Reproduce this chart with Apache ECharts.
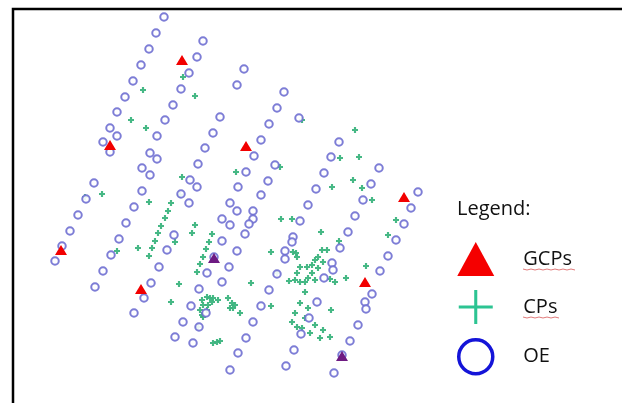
<!DOCTYPE html>
<html>
<head>
<meta charset="utf-8">
<script src="https://cdn.jsdelivr.net/npm/echarts@6/dist/echarts.min.js"></script>
<style>
  html, body { margin: 0; padding: 0; background: #fff; }
  #main { width: 622px; height: 403px; }
</style>
</head>
<body>
<div id="main"></div>
<script>
// point positions (image coordinates, y grows downward)
var gcpPoints = [
  [182, 60], [110, 145], [246, 146], [404, 197], [61, 250],
  [141, 289], [214, 258], [365, 282], [342, 356]
];

var cpPoints = [
  [143, 90], [131, 120], [146, 128], [183, 77], [195, 96], [182, 177], [102, 194], [85, 197],
  [236, 172], [280, 167], [302, 120], [355, 130], [340, 158], [359, 157], [353, 180], [332, 187],
  [362, 188], [372, 200],
  [149, 202], [171, 203], [168, 211], [165, 218], [161, 226], [158, 233], [155, 241], [152, 248],
  [149, 256], [138, 248], [117, 251], [175, 242], [180, 195], [192, 233], [195, 225], [212, 234],
  [209, 242], [206, 249], [203, 257], [200, 264], [197, 272], [179, 284], [171, 302],
  [202, 300], [207, 297], [210, 298], [213, 298], [218, 300], [203, 305], [208, 305], [212, 302],
  [202, 315], [207, 310], [200, 310], [203, 317], [198, 327],
  [228, 298], [232, 303], [235, 305], [230, 308], [233, 308], [240, 313],
  [213, 343], [217, 342], [220, 341],
  [251, 283], [271, 252], [281, 219], [292, 219], [289, 281], [297, 273], [296, 253], [277, 273],
  [271, 306], [292, 322], [295, 313], [321, 232], [339, 241], [396, 220], [388, 235], [366, 266],
  [346, 278], [331, 310],
  [293, 252], [297, 257], [300, 267], [307, 267], [312, 265], [315, 260], [318, 257], [322, 250],
  [327, 250], [323, 262], [318, 268], [312, 273], [308, 278], [305, 282], [300, 282], [295, 280],
  [315, 280], [330, 279], [335, 282], [305, 292], [300, 303], [308, 308], [305, 318], [315, 325],
  [323, 330], [330, 337], [320, 338], [297, 327], [310, 333], [302, 328]
];

var oePoints = [
  [164, 17], [156, 33], [149, 49], [141, 65], [133, 81], [125, 97], [117, 112], [110, 128],
  [117, 136], [103, 142], [110, 152],
  [203, 41], [197, 57], [189, 73], [181, 89], [173, 105], [165, 120], [157, 136], [150, 153],
  [157, 159], [142, 168], [150, 175], [94, 183], [142, 191], [86, 199], [134, 207], [78, 215],
  [126, 223], [70, 231], [119, 239], [62, 246], [111, 255], [55, 261], [103, 271], [95, 287],
  [244, 69], [237, 85], [220, 117], [213, 133], [205, 148], [198, 164], [190, 180], [197, 187],
  [181, 194], [189, 203], [174, 235], [167, 250], [159, 267], [151, 283], [144, 298], [134, 313],
  [175, 337],
  [284, 92], [277, 108], [269, 124], [261, 140], [254, 156], [246, 172], [238, 187], [230, 203],
  [237, 211], [222, 219], [230, 225], [222, 241], [237, 251], [229, 267], [222, 282], [207, 273],
  [199, 289], [191, 306], [206, 313], [183, 322], [199, 327], [193, 343], [214, 257],
  [299, 118], [275, 165], [268, 181], [261, 195], [253, 211], [253, 219], [249, 224], [245, 234],
  [339, 142], [331, 157], [324, 173], [316, 189], [308, 205], [300, 221], [293, 237], [292, 242],
  [285, 251], [285, 259], [277, 274], [269, 290], [261, 306], [253, 322], [246, 338], [238, 353],
  [230, 370],
  [379, 168], [371, 184], [363, 200], [355, 216], [348, 232], [340, 248], [332, 263], [333, 270],
  [324, 278], [317, 302], [309, 318], [301, 334], [294, 350], [286, 366],
  [418, 192], [411, 208], [404, 224], [396, 240], [388, 256], [380, 271], [372, 294], [365, 302],
  [366, 309], [358, 325], [350, 341], [334, 373], [342, 355]
];

var legendNames = ['GCPs', 'CPs', 'OE'];
var legendTitle = 'Legend:';

var thinPlus = 'path://M4.55,0h0.9v4.55h4.55v0.9h-4.55v4.55h-0.9v-4.55h-4.55v-0.9h4.55z';
var fatPlus = 'path://M3.2,0h3.6v3.2h3.2v3.6h-3.2v3.2h-3.6v-3.2h-3.2v-3.6h3.2z';

// triangles sitting right under an OE circle come out purple in the original
var gcpData = gcpPoints.map(function (p) {
  var hit = oePoints.some(function (q) {
    return Math.abs(q[0] - p[0]) <= 3 && Math.abs(q[1] - p[1]) <= 3;
  });
  return hit ? { value: p, itemStyle: { color: '#6e1a82' } } : { value: p };
});

var myChart = echarts.init(document.getElementById('main'));

var option = {
  animation: false,
  title: {
    text: legendTitle,
    left: 457,
    top: 199,
    padding: 0,
    textStyle: {
      fontFamily: 'Open Sans',
      fontSize: 20,
      fontWeight: 'normal',
      color: '#111'
    }
  },
  legend: {
    orient: 'vertical',
    left: 457,
    top: 242,
    padding: 0,
    itemWidth: 37,
    itemHeight: 34,
    itemGap: 14,
    selectedMode: false,
    textStyle: {
      fontFamily: 'Open Sans',
      fontSize: 20,
      color: '#111',
      padding: [0, 0, 0, 24]
    },
    data: [
      { name: legendNames[0], icon: 'triangle', itemStyle: { color: '#f50000', opacity: 1 } },
      { name: legendNames[1], icon: thinPlus, itemStyle: { color: '#2cc492', borderWidth: 0, opacity: 1 } },
      {
        name: legendNames[2], icon: 'circle',
        itemStyle: { color: 'rgba(0,0,0,0)', borderColor: '#1414d8', borderWidth: 3.5, opacity: 1 }
      }
    ]
  },
  grid: { left: 0, right: 0, top: 0, bottom: 0 },
  xAxis: { type: 'value', min: 0, max: 622, show: false },
  yAxis: { type: 'value', min: 0, max: 403, inverse: true, show: false },
  graphic: [
    {
      // frame: left and top edges only
      type: 'polyline',
      shape: { points: [[13, 403], [13, 9], [622, 9]] },
      style: { stroke: '#000', lineWidth: 2.5, fill: null },
      z: 10
    },
    {
      type: 'polyline',
      shape: { points: [[523, 269], [527, 270], [531, 269], [535, 270], [539, 269], [543, 270], [547, 269], [551, 270], [555, 269], [559, 270], [563, 269], [567, 270], [571, 269], [575, 270]] },
      style: { stroke: '#e07a7a', lineWidth: 1, fill: null }
    },
    {
      type: 'polyline',
      shape: { points: [[523, 317], [527, 318], [531, 317], [535, 318], [539, 317], [543, 318], [547, 317], [551, 318], [555, 317], [559, 318]] },
      style: { stroke: '#e07a7a', lineWidth: 1, fill: null }
    }
  ],
  series: [
    {
      name: 'CPs',
      type: 'scatter',
      symbol: fatPlus,
      symbolSize: 6,
      itemStyle: { color: '#3cb47e', opacity: 0.95 },
      data: cpPoints,
      z: 2
    },
    {
      name: 'OE',
      type: 'scatter',
      symbol: 'emptyCircle',
      symbolSize: 7.5,
      itemStyle: { color: '#6f6fd2', borderWidth: 1.8, opacity: 0.9 },
      data: oePoints,
      z: 3
    },
    {
      name: 'GCPs',
      type: 'scatter',
      symbol: 'triangle',
      symbolSize: [12, 10],
      itemStyle: { color: '#f20000', opacity: 1 },
      data: gcpData,
      z: 4
    }
  ]
};

myChart.setOption(option);
</script>
</body>
</html>
